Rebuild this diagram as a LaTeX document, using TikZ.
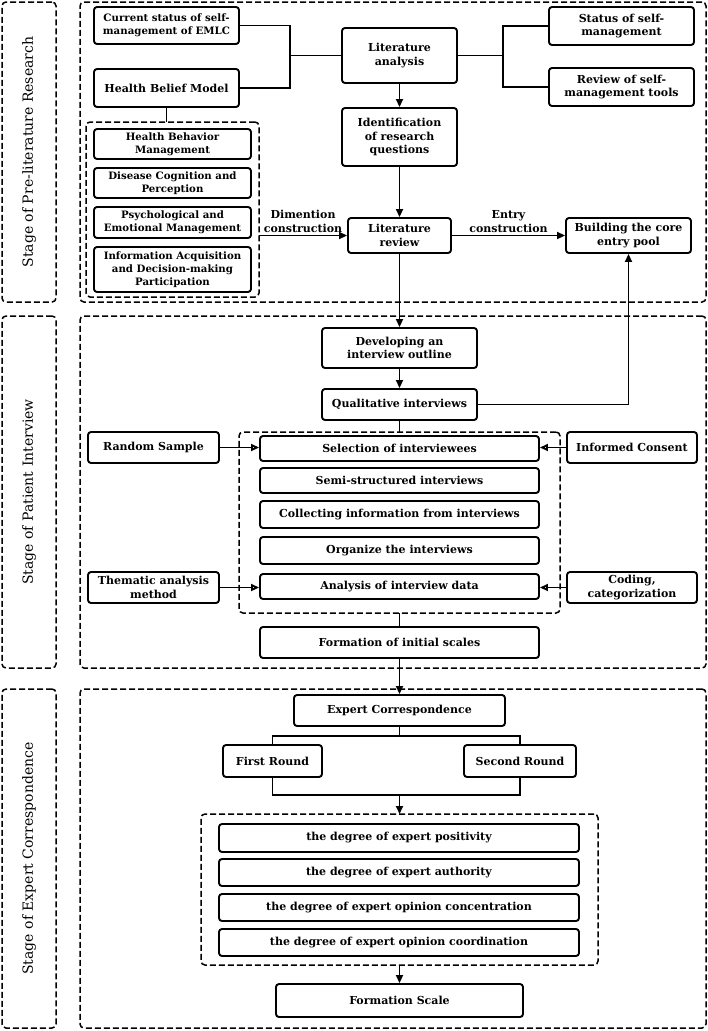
\documentclass[tikz,border=0pt]{standalone}
\usepackage{fontspec}
\setmainfont{DejaVu Serif}
\usetikzlibrary{arrows.meta}
\newcommand\mkbox[6]{\node[box,minimum width=#4pt,minimum height=#5pt] (#1) at (#2,#3) {#6};}
\newcommand\mktbox[6]{\node[box,tightfont,minimum width=#4pt,minimum height=#5pt] (#1) at (#2,#3) {#6};}
\newcommand\mkdash[5]{\node[dbox,minimum width=#4pt,minimum height=#5pt] (#1) at (#2,#3) {};}
\begin{document}
\begin{tikzpicture}[x=1pt,y=-1pt,
  box/.style={draw, line width=1.9pt, rounded corners=3pt, align=center, inner sep=1pt,
    font=\bfseries\fontsize{11}{13.5}\selectfont},
  tightfont/.style={font=\bfseries\fontsize{10.2}{13}\selectfont},
  dbox/.style={draw, line width=1.5pt, dash pattern=on 6pt off 3pt, rounded corners=4pt, inner sep=0pt, outer sep=0pt},
  arr/.style={line width=1.8pt, -{Triangle[length=8pt,width=7pt]}},
  oarr/.style={line width=1.8pt, -{Triangle[open,length=8pt,width=7pt]}},
  ln/.style={line width=1.8pt},
  stagetxt/.style={rotate=90, font=\fontsize{14}{16}\selectfont},
  lab/.style={align=center, font=\bfseries\fontsize{11}{13.5}\selectfont, inner sep=1pt}
]
\useasboundingbox (0,0) rectangle (708,1031);
\fill[white] (0,0) rectangle (708,1031);

% stage frames
\mkdash{st1}{29}{152}{54}{300}
\mkdash{st2}{29}{492}{54}{352}
\mkdash{st3}{29}{858.5}{54}{339}
\node[stagetxt] at (st1) {Stage of Pre-literature Research};
\node[stagetxt] at (st2) {Stage of Patient Interview};
\node[stagetxt] at (st3) {Stage of Expert Correspondence};
\mkdash{m1}{393}{152}{626}{300}
\mkdash{m2}{393}{492}{626}{352}
\mkdash{m3}{393}{858.5}{626}{339}

% stage 1
\mktbox{cur}{166.5}{25.5}{145}{37}{Current status of self-\\management of EMLC}
\mkbox{hbm}{166.5}{88}{145}{38}{Health Belief Model}
\mkdash{ib1}{172.5}{209.5}{173}{175}
\mktbox{hbmg}{172.5}{144}{157}{30}{Health Behavior\\Management}
\mktbox{dcp}{172.5}{183}{157}{30}{Disease Cognition and\\Perception}
\mktbox{pem}{172.5}{222.5}{157}{31}{Psychological and\\Emotional Management}
\mktbox{iad}{172.5}{269.5}{157}{45}{Information Acquisition\\and Decision-making\\Participation}
\mkbox{la}{399.5}{55.5}{115}{55}{Literature\\analysis}
\mkbox{irq}{399.5}{137}{115}{58}{Identification\\of research\\questions}
\mkbox{lr}{399.5}{235.5}{103}{35}{Literature\\review}
\mkbox{bce}{628.5}{235.5}{125}{35}{Building the core\\entry pool}
\mkbox{ssm}{621.5}{26}{145}{38}{Status of self-\\management}
\mkbox{rsm}{621.5}{87}{145}{38}{Review of self-\\management tools}

% stage 2
\mkbox{dev}{399.5}{348}{155}{40}{Developing an\\interview outline}
\mkbox{qual}{399.5}{404.5}{155}{31}{Qualitative interviews}
\mkdash{ib2}{399.5}{522.5}{321}{181}
\mkbox{sel}{399.5}{448.5}{279}{25}{Selection of interviewees}
\mkbox{semi}{399.5}{480.5}{279}{25}{Semi-structured interviews}
\mkbox{coll}{399.5}{514.5}{279}{27}{Collecting information from interviews}
\mkbox{org}{399.5}{550.5}{279}{27}{Organize the interviews}
\mkbox{ana}{399.5}{586.5}{279}{25}{Analysis of interview data}
\mkbox{rs}{153.5}{447.5}{131}{31}{Random Sample}
\mkbox{them}{153.5}{587.5}{131}{31}{Thematic analysis\\method}
\mkbox{ic}{632}{447.5}{130}{31}{Informed Consent}
\mkbox{cod}{632}{587.5}{130}{31}{Coding,\\categorization}
\mkbox{fis}{399.5}{642.5}{279}{31}{Formation of initial scales}

% stage 3
\mkbox{ec}{399.5}{710.5}{211}{31}{Expert Correspondence}
\mkbox{fr}{272.5}{761}{99}{32}{First Round}
\mkbox{sr}{520}{761}{112}{32}{Second Round}
\mkdash{ib3}{399.5}{889.5}{397}{151}
\mkbox{d1}{399}{838}{360}{28}{the degree of expert positivity}
\mkbox{d2}{399}{872.5}{360}{27}{the degree of expert authority}
\mkbox{d3}{399}{907.5}{360}{27}{the degree of expert opinion concentration}
\mkbox{d4}{399}{942.5}{360}{27}{the degree of expert opinion coordination}
\mkbox{fs}{399.5}{1000.5}{247}{33}{Formation Scale}

% connectors stage 1
\coordinate (j1) at (290,55.5);
\draw[ln] (cur.east) -| (j1) |- (hbm.east);
\draw[ln] (j1) -- (la.west);
\coordinate (j2) at (503,55.5);
\draw[ln] (la.east) -- (j2);
\draw[ln] (ssm.west) -| (j2) |- (rsm.west);
\draw[ln] (hbm.south) -- (hbm.south |- ib1.north);
\draw[arr] (la) -- (irq);
\draw[arr] (irq) -- (lr);
\draw[arr] (ib1.east |- lr.west) -- node[lab, above=1pt, pos=0.5] {Dimention\\construction} (lr.west);
\draw[arr] (lr.east) -- node[lab, above=1pt] {Entry\\construction} (bce.west);
\draw[arr] (lr) -- (dev);

% connectors stage 2
\draw[arr] (dev) -- (qual);
\draw[arr] (qual.east) -| (bce.south);
\draw[ln] (qual.south) -- (ib2.north);
\draw[oarr] (rs.east) -- (rs.east -| sel.west);
\draw[oarr] (ic.west) -- (ic.west -| sel.east);
\draw[oarr] (them.east) -- (them.east -| ana.west);
\draw[oarr] (cod.west) -- (cod.west -| ana.east);
\draw[ln] (ib2.south) -- (fis.north);
\draw[arr] (fis) -- (ec);

% connectors stage 3
\coordinate (j3) at (399.5,736);
\coordinate (j4) at (399.5,795);
\draw[ln] (ec.south) -- (j3);
\draw[ln] (fr.north) |- (j3) -| (sr.north);
\draw[ln] (fr.south) |- (j4) -| (sr.south);
\draw[arr] (j4) -- (ib3.north);
\draw[arr] (ib3.south) -- (fs.north);
\end{tikzpicture}
\end{document}
